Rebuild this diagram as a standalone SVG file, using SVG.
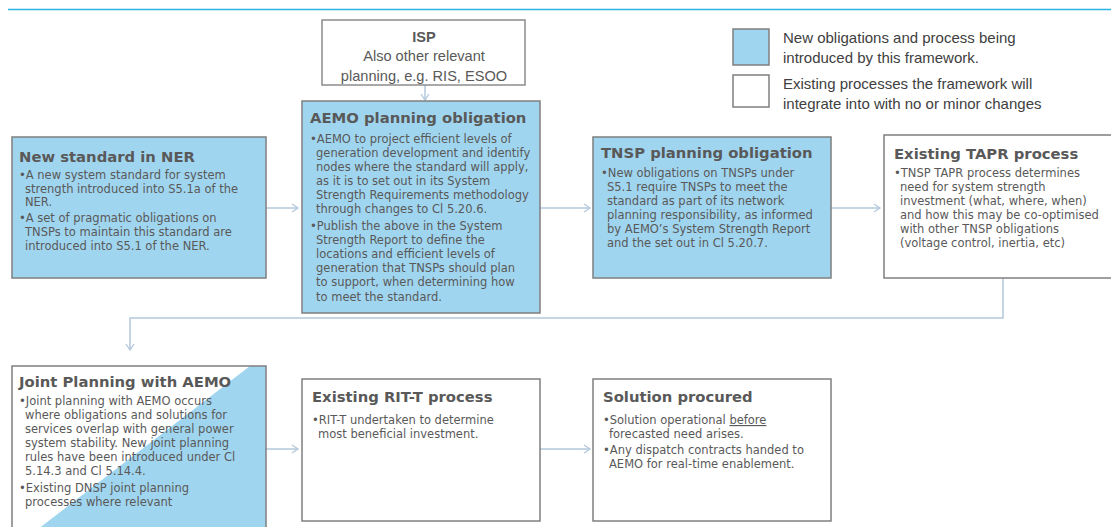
<svg xmlns="http://www.w3.org/2000/svg" width="1111" height="527" viewBox="0 0 1111 527">
<style>
.blue{fill:#a0d5ef;stroke:#7f7f7f;stroke-width:1.5}
.white{fill:#ffffff;stroke:#7f7f7f;stroke-width:1.5}
.title{font-family:"DejaVu Sans",Verdana,sans-serif;font-weight:bold;font-size:14.8px;fill:#595959}
.body{font-family:"DejaVu Sans",Verdana,sans-serif;font-size:11.5px;fill:#595959}
.cal{font-family:"Liberation Sans",Arial,sans-serif;font-size:14.6px;fill:#595959}
.leg{font-family:"Liberation Sans",Arial,sans-serif;font-size:15px;fill:#404040}
.conn{fill:none;stroke:#b4c8dc;stroke-width:1.5}
</style>
<defs>
<marker id="arr" markerWidth="10" markerHeight="10" refX="7" refY="5" orient="auto" markerUnits="userSpaceOnUse">
<path d="M1,1 L7,5 L1,9" fill="none" stroke="#b4c8dc" stroke-width="1.3"/>
</marker>
</defs>
<line x1="8" y1="9.5" x2="1111" y2="9.5" stroke="#29b5e8" stroke-width="1.5"/>

<g id="legend">
<rect x="733" y="29" width="36" height="36" class="blue"/>
<rect x="733" y="75" width="36" height="32" class="white"/>
<text class="leg" x="783" y="43">New obligations and process being</text>
<text class="leg" x="783" y="63">introduced by this framework.</text>
<text class="leg" x="783" y="89">Existing processes the framework will</text>
<text class="leg" x="783" y="109">integrate into with no or minor changes</text>
</g>

<g id="connectors">
<line x1="425" y1="85" x2="425" y2="100" class="conn" marker-end="url(#arr)"/>
<line x1="266" y1="208" x2="298" y2="208" class="conn" marker-end="url(#arr)"/>
<line x1="540" y1="208" x2="590" y2="208" class="conn" marker-end="url(#arr)"/>
<line x1="831" y1="208" x2="880" y2="208" class="conn" marker-end="url(#arr)"/>
<polyline points="1003,278 1003,318 130,318 130,350" class="conn" marker-end="url(#arr)"/>
<line x1="266" y1="449" x2="298" y2="449" class="conn" marker-end="url(#arr)"/>
<line x1="540" y1="449" x2="590" y2="449" class="conn" marker-end="url(#arr)"/>
</g>

<g id="isp">
<rect x="322" y="20" width="203" height="65" class="white" style="stroke:#8c8c8c"/>
<text class="cal" x="424" y="42" text-anchor="middle" font-weight="bold">ISP</text>
<text class="cal" x="424" y="61" text-anchor="middle">Also other relevant</text>
<text class="cal" x="424" y="81" text-anchor="middle">planning, e.g. RIS, ESOO</text>
</g>

<g id="new-standard">
<rect x="12" y="137" width="254" height="141" class="blue"/>
<text class="title" x="19" y="162">New standard in NER</text>
<text class="body" x="19" y="179">•A new system standard for system</text>
<text class="body" x="25" y="193">strength introduced into S5.1a of the</text>
<text class="body" x="25" y="206">NER.</text>
<text class="body" x="19" y="222">•A set of pragmatic obligations on</text>
<text class="body" x="25" y="236">TNSPs to maintain this standard are</text>
<text class="body" x="25" y="250">introduced into S5.1 of the NER.</text>
</g>

<g id="aemo">
<rect x="302" y="101" width="238" height="212" class="blue"/>
<text class="title" x="310" y="123">AEMO planning obligation</text>
<text class="body" x="310" y="143">•AEMO to project efficient levels of</text>
<text class="body" x="316" y="157">generation development and identify</text>
<text class="body" x="316" y="171">nodes where the standard will apply,</text>
<text class="body" x="316" y="185">as it is to set out in its System</text>
<text class="body" x="316" y="199">Strength Requirements methodology</text>
<text class="body" x="316" y="213">through changes to Cl 5.20.6.</text>
<text class="body" x="310" y="230">•Publish the above in the System</text>
<text class="body" x="316" y="244">Strength Report to define the</text>
<text class="body" x="316" y="258">locations and efficient levels of</text>
<text class="body" x="316" y="272">generation that TNSPs should plan</text>
<text class="body" x="316" y="286">to support, when determining how</text>
<text class="body" x="316" y="301">to meet the standard.</text>
</g>

<g id="tnsp">
<rect x="593" y="137" width="238" height="141" class="blue"/>
<text class="title" x="601" y="158">TNSP planning obligation</text>
<text class="body" x="601" y="177">•New obligations on TNSPs under</text>
<text class="body" x="607" y="191">S5.1 require TNSPs to meet the</text>
<text class="body" x="607" y="205">standard as part of its network</text>
<text class="body" x="607" y="219">planning responsibility, as informed</text>
<text class="body" x="607" y="233">by AEMO’s System Strength Report</text>
<text class="body" x="607" y="247">and the set out in Cl 5.20.7.</text>
</g>

<g id="tapr">
<rect x="884" y="135" width="230" height="143" class="white"/>
<text class="title" x="894" y="159">Existing TAPR process</text>
<text class="body" x="894" y="177">•TNSP TAPR process determines</text>
<text class="body" x="900" y="191">need for system strength</text>
<text class="body" x="900" y="205">investment (what, where, when)</text>
<text class="body" x="900" y="219">and how this may be co-optimised</text>
<text class="body" x="900" y="233">with other TNSP obligations</text>
<text class="body" x="900" y="247">(voltage control, inertia, etc)</text>
</g>

<g id="joint">
<rect x="12" y="366" width="254" height="170" fill="#ffffff"/>
<polygon points="250,366 266,366 266,536 29,536" fill="#a0d5ef"/>
<rect x="12" y="366" width="254" height="170" fill="none" stroke="#7f7f7f" stroke-width="1.5"/>
<text class="title" x="19" y="387">Joint Planning with AEMO</text>
<text class="body" x="19" y="405">•Joint planning with AEMO occurs</text>
<text class="body" x="25" y="419">where obligations and solutions for</text>
<text class="body" x="25" y="433">services overlap with general power</text>
<text class="body" x="25" y="447">system stability. New joint planning</text>
<text class="body" x="25" y="461">rules have been introduced under Cl</text>
<text class="body" x="25" y="475">5.14.3 and Cl 5.14.4.</text>
<text class="body" x="19" y="492">•Existing DNSP joint planning</text>
<text class="body" x="25" y="506">processes where relevant</text>
</g>

<g id="ritt">
<rect x="302" y="379" width="238" height="142" class="white"/>
<text class="title" x="312" y="402">Existing RIT-T process</text>
<text class="body" x="312" y="424">•RIT-T undertaken to determine</text>
<text class="body" x="318" y="438">most beneficial investment.</text>
</g>

<g id="solution">
<rect x="593" y="379" width="238" height="142" class="white"/>
<text class="title" x="603" y="402">Solution procured</text>
<text class="body" x="603" y="424">•Solution operational <tspan text-decoration="underline">before</tspan></text>
<text class="body" x="609" y="438">forecasted need arises.</text>
<text class="body" x="603" y="454">•Any dispatch contracts handed to</text>
<text class="body" x="609" y="468">AEMO for real-time enablement.</text>
</g>
</svg>
